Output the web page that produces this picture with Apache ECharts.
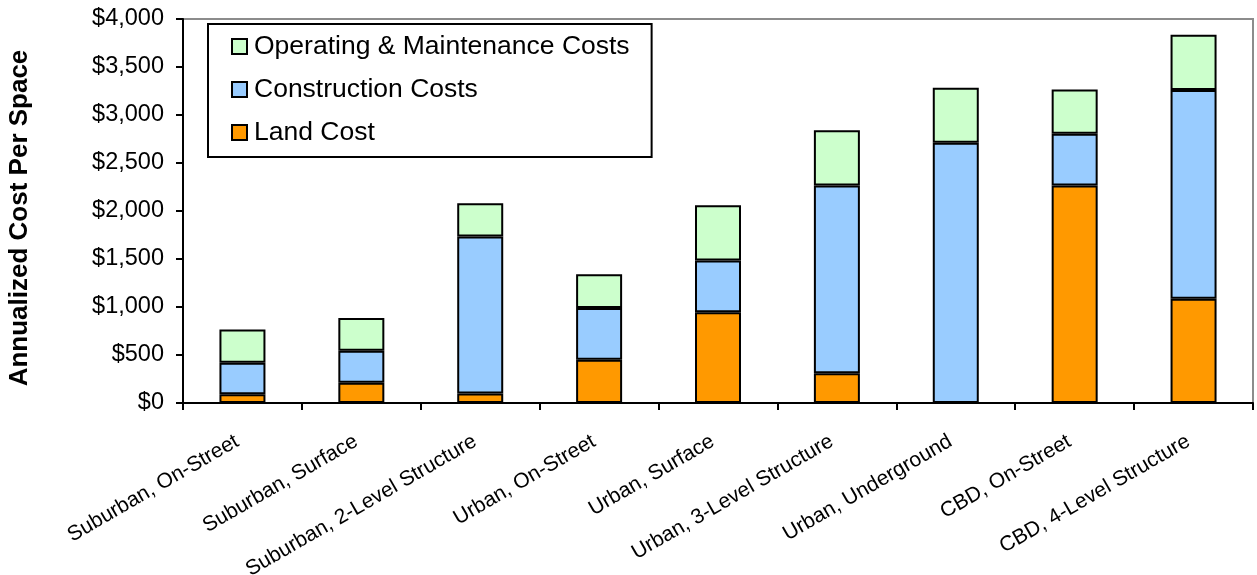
<!DOCTYPE html>
<html>
<head>
<meta charset="utf-8">
<script src="https://cdn.jsdelivr.net/npm/echarts@6/dist/echarts.min.js"></script>
<style>
html,body{margin:0;padding:0;background:#fff;}
#c{width:1257px;height:575px;}
</style>
</head>
<body>
<div id="c"></div>
<script>
const categories = [
  "Suburban, On-Street",
  "Suburban, Surface",
  "Suburban, 2-Level Structure",
  "Urban, On-Street",
  "Urban, Surface",
  "Urban, 3-Level Structure",
  "Urban, Underground",
  "CBD, On-Street",
  "CBD, 4-Level Structure"
];
const landCost = [90, 210, 100, 450, 945, 310, 0, 2265, 1085];
const constructionCosts = [330, 335, 1635, 540, 540, 1955, 2710, 540, 2175];
const omCosts = [345, 340, 345, 350, 575, 575, 575, 460, 575];
const seriesNames = ["Land Cost", "Construction Costs", "Operating & Maintenance Costs"];
const yTicks = [0, 500, 1000, 1500, 2000, 2500, 3000, 3500, 4000];

const font = "Arial, 'Liberation Sans', sans-serif";
const colors = ["#FF9900", "#99CCFF", "#CCFFCC"];
const values = [landCost, constructionCosts, omCosts];

const chart = echarts.init(document.getElementById('c'), null, {renderer: 'canvas'});
chart.setOption({
  animation: false,
  backgroundColor: '#fff',
  grid: {
    left: 183, right: 4, top: 19, bottom: 172,
    containLabel: false,
    outerBoundsMode: 'none',
    show: true, borderColor: '#8c8c8c', borderWidth: 2, backgroundColor: 'transparent'
  },
  legend: {
    orient: 'vertical',
    left: 208, top: 24,
    data: [seriesNames[2], seriesNames[1], seriesNames[0]],
    icon: 'rect',
    itemWidth: 15, itemHeight: 15,
    itemGap: 16,
    padding: [9, 22, 11, 23],
    borderColor: '#000', borderWidth: 2,
    backgroundColor: '#fff',
    textStyle: {fontFamily: font, fontSize: 26.5, color: '#000', lineHeight: 26, padding: [0, 0, 0, 2]},
    itemStyle: {borderColor: '#000', borderWidth: 2}
  },
  xAxis: {
    type: 'category',
    data: categories,
    boundaryGap: true,
    axisLine: {lineStyle: {color: '#000', width: 2}},
    axisTick: {show: true, length: 7, lineStyle: {color: '#000', width: 2}, alignWithLabel: false},
    axisLabel: {rotate: 30, fontFamily: font, fontSize: 21, color: '#000', margin: 34, interval: 0, padding: [0, 6, 0, 0]}
  },
  yAxis: {
    type: 'value',
    min: 0, max: 4000, interval: 500,
    name: 'Annualized Cost Per Space',
    nameLocation: 'middle',
    nameRotate: 90,
    nameGap: 150,
    nameTextStyle: {fontFamily: font, fontSize: 26, fontWeight: 'bold', color: '#000', padding: [0, 14, 0, 0]},
    axisLine: {show: true, lineStyle: {color: '#000', width: 2}},
    axisTick: {show: true, length: 7, lineStyle: {color: '#000', width: 2}},
    splitLine: {show: false},
    axisLabel: {
      fontFamily: font, fontSize: 23.5, color: '#000', margin: 19,
      formatter: v => yTicks.includes(v) ? '$' + v.toLocaleString('en-US') : ''
    }
  },
  series: seriesNames.map((n, i) => ({
    name: n,
    type: 'bar',
    stack: 'total',
    barWidth: 46,
    data: values[i],
    itemStyle: {color: colors[i], borderColor: '#000', borderWidth: 2},
    emphasis: {disabled: true}
  }))
});
</script>
</body>
</html>
